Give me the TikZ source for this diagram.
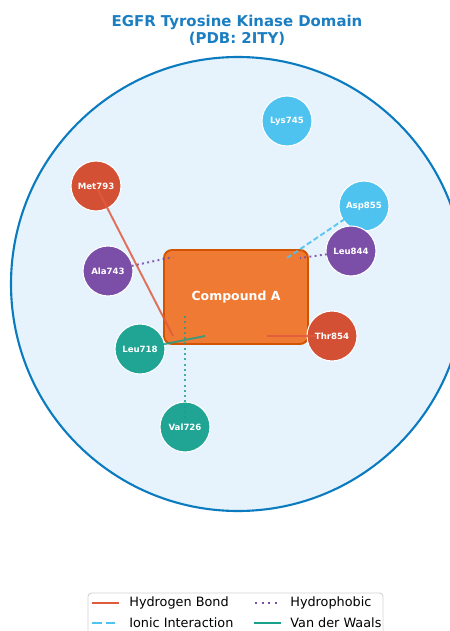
\documentclass[tikz,border=0pt]{standalone}
\usepackage{fontspec}
\setmainfont{DejaVu Sans}

\definecolor{titleblue}{HTML}{1B7EC2}
\definecolor{pocketfill}{HTML}{E6F3FD}
\definecolor{pocketline}{HTML}{0B7BC0}
\definecolor{ligfill}{HTML}{EF7A33}
\definecolor{ligedge}{HTML}{D35400}
\definecolor{resred}{HTML}{D35034}
\definecolor{resteal}{HTML}{20A595}
\definecolor{respurple}{HTML}{7B4EA8}
\definecolor{resblue}{HTML}{4FC3F0}
\definecolor{hbcol}{HTML}{E05A3E}
\definecolor{ioncol}{HTML}{4FC3F0}
\definecolor{hpcol}{HTML}{7B4EA8}
\definecolor{vdwcol}{HTML}{17A08A}

\begin{document}
\begin{tikzpicture}[
    x=0.02cm, y=-0.02cm,
    residue/.style={circle, draw=white, line width=0.6pt, minimum size=1cm, inner sep=0pt, text=white, font=\fontsize{4.9}{6}\selectfont\bfseries},
    ligand/.style={rounded corners=4.5pt, draw=ligedge, line width=1.1pt, fill=ligfill, minimum width=2.88cm, minimum height=1.88cm, text=white, font=\fontsize{7.1}{9}\selectfont\bfseries},
    hbond/.style={hbcol, line width=1.1pt, opacity=0.85},
    ionic/.style={ioncol, line width=1.1pt, opacity=0.9, dash pattern=on 3pt off 1.6pt},
    hydrophobic/.style={hpcol, line width=1.1pt, opacity=0.9, dash pattern=on 1.1pt off 1.9pt},
    vdw/.style={vdwcol, line width=1.1pt, opacity=0.8},
    vdwdot/.style={vdwcol, line width=1.1pt, opacity=0.8, dash pattern=on 1.1pt off 1.9pt},
    legtext/.style={anchor=west, inner sep=0pt, font=\fontsize{7.3}{8}\selectfont}
]
\useasboundingbox (0,0) rectangle (449,631);

% Title
\node[text=titleblue, align=center, font=\fontsize{8.5}{9.7}\selectfont\bfseries] (title) at (237,30)
    {EGFR Tyrosine Kinase Domain\\(PDB: 2ITY)};

% Binding pocket
\fill[pocketfill] (238,284) circle (227);
\draw[pocketline, line width=1.2pt] (238,284) circle (227);

% Ligand
\node[ligand] (lig) at (236,297) {Compound A};

% Residues
\node[residue, fill=resblue] (lys745) at (287,121) {Lys745};
\node[residue, fill=resred] (met793) at (96,186) {Met793};
\node[residue, fill=resblue] (asp855) at (364,206) {Asp855};
\node[residue, fill=respurple] (leu844) at (351,251) {Leu844};
\node[residue, fill=respurple] (ala743) at (108,271) {Ala743};
\node[residue, fill=resred] (thr854) at (332,336) {Thr854};
\node[residue, fill=resteal] (leu718) at (140,349) {Leu718};
\node[residue, fill=resteal] (val726) at (185,427) {Val726};

% Contact points on the ligand
\coordinate (hb1) at (173,336);
\coordinate (hb2) at (267,336);
\coordinate (hp1) at (173,257);
\coordinate (hp2) at (300,258);
\coordinate (ion1) at (287,258);
\coordinate (vw1) at (205,336);
\coordinate (vw2) at (185,316);

% Interactions
\draw[hbond, shorten <=2pt] (met793.center) -- (hb1);
\draw[hbond, shorten <=8.5pt] (thr854.center) -- (hb2);
\draw[hydrophobic, shorten <=10.8pt] (ala743.center) -- (hp1);
\draw[hydrophobic, shorten <=10.8pt] (leu844.center) -- (hp2);
\draw[ionic, shorten <=4pt] (asp855.center) -- (ion1);
\draw[vdw, shorten <=13.6pt] (leu718.center) -- (vw1);
\draw[vdwdot, shorten <=5pt] (val726.center) -- (vw2);

% Legend
\draw[gray!35, fill=white, rounded corners=2pt, line width=0.5pt] (88,593) rectangle (383,650);
\draw[hbond, opacity=1] (92,603) -- (119,603);
\node[legtext] (l1) at (129,603) {Hydrogen Bond};
\draw[ionic, opacity=1, dash pattern=on 5.5pt off 2.3pt] (92,623) -- (119,623);
\node[legtext] (l2) at (129,623) {Ionic Interaction};
\draw[hydrophobic, opacity=1, dash pattern=on 1.2pt off 2.6pt] (255,603) -- (280,603);
\node[legtext] (l3) at (290,603) {Hydrophobic};
\draw[vdw, opacity=1] (254,623) -- (281,623);
\node[legtext] (l4) at (290,623) {Van der Waals};

\end{tikzpicture}
\end{document}
